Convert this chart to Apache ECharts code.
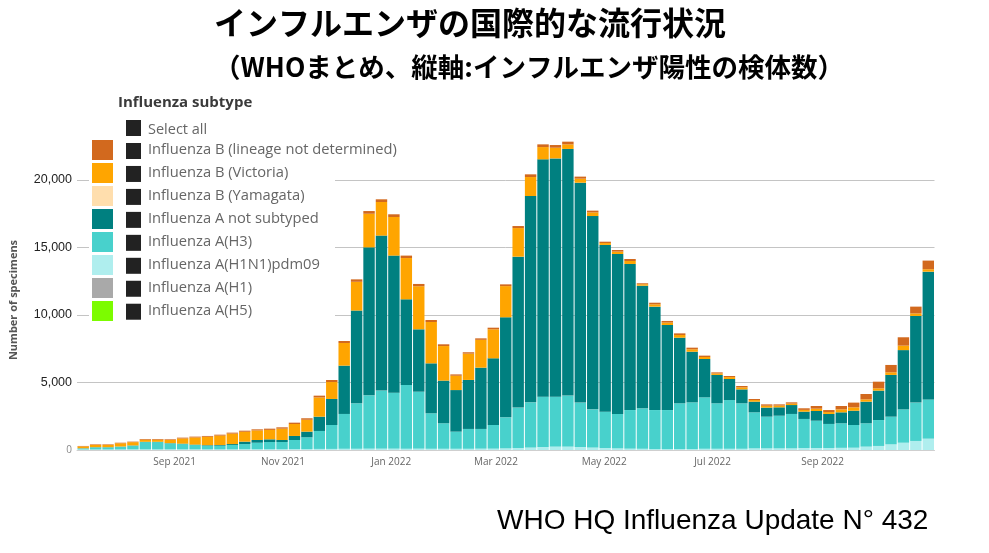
<!DOCTYPE html>
<html><head><meta charset="utf-8">
<script src="https://cdn.jsdelivr.net/npm/echarts@6/dist/echarts.min.js"></script>
<style>html,body{margin:0;padding:0;background:#fff}#c{width:989px;height:553px}</style>
</head><body><div id="c"></div>
<script>
// ---- data ----
const startDate = '2021-07-08';   // first weekly bar
const weekCount = 69;
const tickLabels = ['Sep 2021','Nov 2021','Jan 2022','Mar 2022','May 2022','Jul 2022','Sep 2022'];
const tickDates  = ['2021-09-01','2021-11-01','2022-01-01','2022-03-01','2022-05-01','2022-07-01','2022-09-01'];
const yTicks = [0, 5000, 10000, 15000, 20000];

const nameLineage = 'Influenza B (lineage not determined)';
const nameVictoria = 'Influenza B (Victoria)';
const nameYamagata = 'Influenza B (Yamagata)';
const nameANS = 'Influenza A not subtyped';
const nameH3 = 'Influenza A(H3)';
const nameH1N1 = 'Influenza A(H1N1)pdm09';
const nameH1 = 'Influenza A(H1)';
const nameH5 = 'Influenza A(H5)';
const legendOrder = [nameLineage, nameVictoria, nameYamagata, nameANS, nameH3, nameH1N1, nameH1, nameH5];

const h1n1 = [40,40,40,40,50,50,50,50,50,50,50,50,50,60,60,60,60,70,70,80,80,90,90,100,100,100,100,100,90,90,90,90,100,100,120,150,180,220,250,250,220,180,150,120,100,90,70,70,70,70,90,90,90,90,120,120,120,120,150,150,150,160,170,250,300,420,540,670,840];
const h3 = [80,160,160,210,270,540,540,440,390,320,270,270,320,380,480,530,530,670,870,1330,1770,2580,3370,3950,4300,4150,4720,4220,2630,1890,1270,1470,1460,1750,2300,2990,3350,3730,3700,3780,3290,2830,2690,2550,2860,3000,2890,2890,3390,3460,3810,3370,3610,3370,2670,2350,2420,2550,2150,2020,1780,1820,1680,1730,1920,2050,2470,2840,2910];
const aNotSubtyped = [10,10,10,10,20,20,20,20,30,30,40,50,70,180,200,200,150,300,420,1060,1930,3580,6870,10960,11480,10150,6340,4620,3700,3160,3080,3630,4540,4940,7410,11180,15285,17580,17650,18270,16290,14320,12350,11850,10820,9080,7660,6300,4860,3750,2840,2100,1560,1030,790,670,620,660,540,720,740,810,1060,1600,2180,3090,4390,6420,9460];
const yamagata = [0,0,0,0,0,0,0,0,0,0,0,0,0,0,0,0,0,0,0,0,0,0,0,0,0,0,0,0,0,0,0,0,0,0,0,0,0,0,0,0,0,0,0,0,0,0,0,0,0,0,0,0,0,0,0,0,0,0,0,0,0,0,0,0,0,0,0,0,0];
const victoria = [140,170,170,240,240,155,155,230,385,530,620,695,775,730,710,700,840,885,880,1425,1255,1675,2130,2490,2490,2860,3060,3190,3060,2560,1060,1950,2060,2150,2310,2120,1405,910,790,340,300,270,140,175,220,110,170,180,200,180,150,110,140,150,120,140,130,110,130,170,140,220,250,170,170,195,330,190,180];
const lineageND = [30,40,40,40,40,50,50,50,60,60,60,70,70,80,80,90,100,100,110,130,150,150,180,200,200,200,180,170,150,130,100,100,110,120,130,150,200,200,200,200,150,130,100,120,150,70,120,120,120,120,100,80,80,100,80,100,90,90,120,200,150,250,350,400,490,545,620,500,640];
const h1 = new Array(weekCount).fill(0);
const h5 = new Array(weekCount).fill(0);

const colors = {};
colors[nameLineage] = '#D2691E';
colors[nameVictoria] = '#FFA500';
colors[nameYamagata] = '#FFDEAD';
colors[nameANS] = '#008080';
colors[nameH3] = '#48D1CC';
colors[nameH1N1] = '#AFEEEE';
colors[nameH1] = '#A9A9A9';
colors[nameH5] = '#7CFC00';

// ---- build ----
const DAY = 86400000;
const t0 = Date.parse(startDate + 'T00:00:00Z');
const categories = [];
for (let i = 0; i < weekCount; i++) {
  categories.push(new Date(t0 + i * 7 * DAY).toISOString().slice(0, 10));
}
const tickWeeks = tickDates.map(d => (Date.parse(d + 'T00:00:00Z') - t0) / (7 * DAY));

const stackList = [
  [nameH1N1, h1n1], [nameH3, h3], [nameANS, aNotSubtyped], [nameYamagata, yamagata],
  [nameVictoria, victoria], [nameLineage, lineageND], [nameH1, h1], [nameH5, h5]
];
const series = stackList.map(([name, data]) => ({
  name, type: 'bar', stack: 'all', data, barCategoryGap: '8%',
  itemStyle: { color: colors[name] }, emphasis: { disabled: true }
}));

const graphics = [
  { type: 'rect', z: 1, shape: { x: 89, y: 115, width: 246, height: 211 }, style: { fill: '#ffffff' } },
  { type: 'text', x: 470, y: 23, z: 10, style: { text: 'インフルエンザの国際的な流行状況', font: 'bold 32px "Noto Sans CJK JP"', fill: '#000', align: 'center', verticalAlign: 'middle', textAlign: 'center', textVerticalAlign: 'middle' } },
  { type: 'text', x: 529, y: 67, z: 10, style: { text: '（WHOまとめ、縦軸:インフルエンザ陽性の検体数）', font: 'bold 26.5px "Noto Sans CJK JP"', fill: '#000', align: 'center', verticalAlign: 'middle', textAlign: 'center', textVerticalAlign: 'middle' } },
  { type: 'text', x: 497, y: 521, z: 10, style: { text: 'WHO HQ Influenza Update N° 432', font: '28px "Liberation Sans"', fill: '#000', align: 'left', verticalAlign: 'middle', textAlign: 'left', textVerticalAlign: 'middle' } },
  { type: 'text', x: 118, y: 103, z: 10, style: { text: 'Influenza subtype', font: 'bold 15px "Open Sans"', fill: '#3a3a3a', align: 'left', verticalAlign: 'middle', textAlign: 'left', textVerticalAlign: 'middle' } },
  { type: 'text', x: 148, y: 129.5, z: 10, style: { text: 'Select all', font: '14.5px "Open Sans"', fill: '#666', align: 'left', verticalAlign: 'middle', textAlign: 'left', textVerticalAlign: 'middle' } }
];
const rowYs = [128];
for (let k = 0; k < legendOrder.length; k++) rowYs.push(151 + 22.96 * k);
rowYs.forEach(yc => graphics.push({ type: 'rect', z: 10, shape: { x: 126, y: yc - 8, width: 15, height: 16 }, style: { fill: '#222' } }));

const chart = echarts.init(document.getElementById('c'), null, { renderer: 'canvas' });
chart.setOption({
  animation: false,
  backgroundColor: '#fff',
  grid: { left: 76, right: 54.5, top: 126, bottom: 103, containLabel: false },
  legend: {
    orient: 'vertical', left: 92, top: 140, padding: 0, itemWidth: 21, itemHeight: 20, itemGap: 3,
    icon: 'rect', selectedMode: false, data: legendOrder, z: 10,
    textStyle: { fontFamily: 'Open Sans', fontSize: 14.7, color: '#666', padding: [0, 0, 0, 30], verticalAlign: 'top', lineHeight: 4 }
  },
  xAxis: [
    { type: 'category', data: categories, axisLabel: { show: false }, axisTick: { show: false },
      axisLine: { lineStyle: { color: '#cfcfcf', width: 1 } } },
    { type: 'value', min: 0, max: weekCount, position: 'bottom',
      axisLine: { show: false }, axisTick: { show: false }, splitLine: { show: false },
      axisLabel: { customValues: tickWeeks, color: '#666', fontFamily: 'Open Sans', fontSize: 10, margin: 7,
        formatter: v => { let b = 0; tickWeeks.forEach((w, i) => { if (Math.abs(w - v) < Math.abs(tickWeeks[b] - v)) b = i; }); return tickLabels[b]; } } }
  ],
  yAxis: {
    type: 'value', min: 0, max: 24000, interval: 5000,
    name: 'Number of specimens', nameLocation: 'middle', nameGap: 58, nameRotate: 90,
    nameTextStyle: { fontFamily: 'Open Sans', fontSize: 11, fontWeight: 'bold', color: '#555', padding: [0, 24, 0, 0] },
    axisLine: { show: false }, axisTick: { show: false },
    splitLine: { show: true, showMaxLine: false, lineStyle: { color: '#c4c4c4', width: 1 } },
    axisLabel: { showMaxLabel: false, margin: 5, color: '#222', fontFamily: 'Liberation Sans', fontSize: 12.5,
      formatter: v => yTicks.indexOf(v) < 0 ? '' : (v === 0 ? '{z|0}' : v.toLocaleString('en-US')),
      rich: { z: { color: '#888', fontSize: 10, fontFamily: 'Open Sans' } } }
  },
  graphic: graphics,
  series
});
</script>
</body></html>
